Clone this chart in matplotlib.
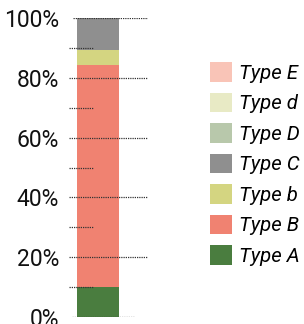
import matplotlib
matplotlib.use('Agg')
import matplotlib.pyplot as plt
from matplotlib.patches import Patch

plt.rcParams['font.family'] = ['Roboto', 'DejaVu Sans']

# stack order, bottom to top
series = ['Type A', 'Type B', 'Type b', 'Type C', 'Type D', 'Type d', 'Type E']
values = [10.0, 74.3, 5.0, 10.7, 0.0, 0.0, 0.0]
colors = ['#4a7d3f', '#f08271', '#d4d581', '#8f8f8f', '#b8c8ab', '#e8eac5', '#f9c4b7']
major_ticks = [0, 20, 40, 60, 80, 100]
minor_ticks = [10, 30, 50, 70, 90]

W, H = 304, 324
fig = plt.figure(figsize=(W / 100, H / 100), dpi=100)
ax_l, ax_r, ax_b, ax_t = 69, 148, 317, 18
ax = fig.add_axes([ax_l / W, 1 - ax_b / H, (ax_r - ax_l) / W, (ax_b - ax_t) / H])
ax.set_xlim(0, 1)
ax.set_ylim(0, 100)


def px(x):
    return (x - ax_l) / (ax_r - ax_l)


bottom = 0
for name, v, c in zip(series, values, colors):
    ax.bar((px(77) + px(119)) / 2, v, width=px(119) - px(77), bottom=bottom,
           color=c, zorder=2)
    bottom += v

# dotted guide lines drawn over the bar
dot = dict(color='#333333', linewidth=0.9, linestyles=(0, (1, 0.8)), zorder=3)
for y in major_ticks:
    if y == 0:
        x0, x1 = px(72), px(135)
    elif y == 100:
        x0, x1 = px(73), px(148)
    else:
        x0, x1 = px(69), px(148)
    ax.hlines(y, x0, x1, **dot)
ax.hlines(minor_ticks, px(69), px(93), **dot)

ax.set_yticks(major_ticks)
ax.set_yticklabels([f'{t}%' for t in major_ticks])
ax.tick_params(axis='y', length=0, pad=7, labelsize=16.5, labelcolor='#111111')
ax.set_xticks([])
for s in ax.spines.values():
    s.set_visible(False)

handles = [Patch(facecolor=c, edgecolor='none', label=n) for n, c in zip(series, colors)][::-1]
fig.legend(handles=handles, loc='upper left', bbox_to_anchor=(210 / W, 1 - 62 / H),
           frameon=False, prop={'style': 'italic', 'size': 14.7},
           handlelength=1.1, handleheight=1.1, handletextpad=0.3, labelspacing=0.48,
           borderpad=0, borderaxespad=0)

fig.savefig('out.png', dpi=100)
